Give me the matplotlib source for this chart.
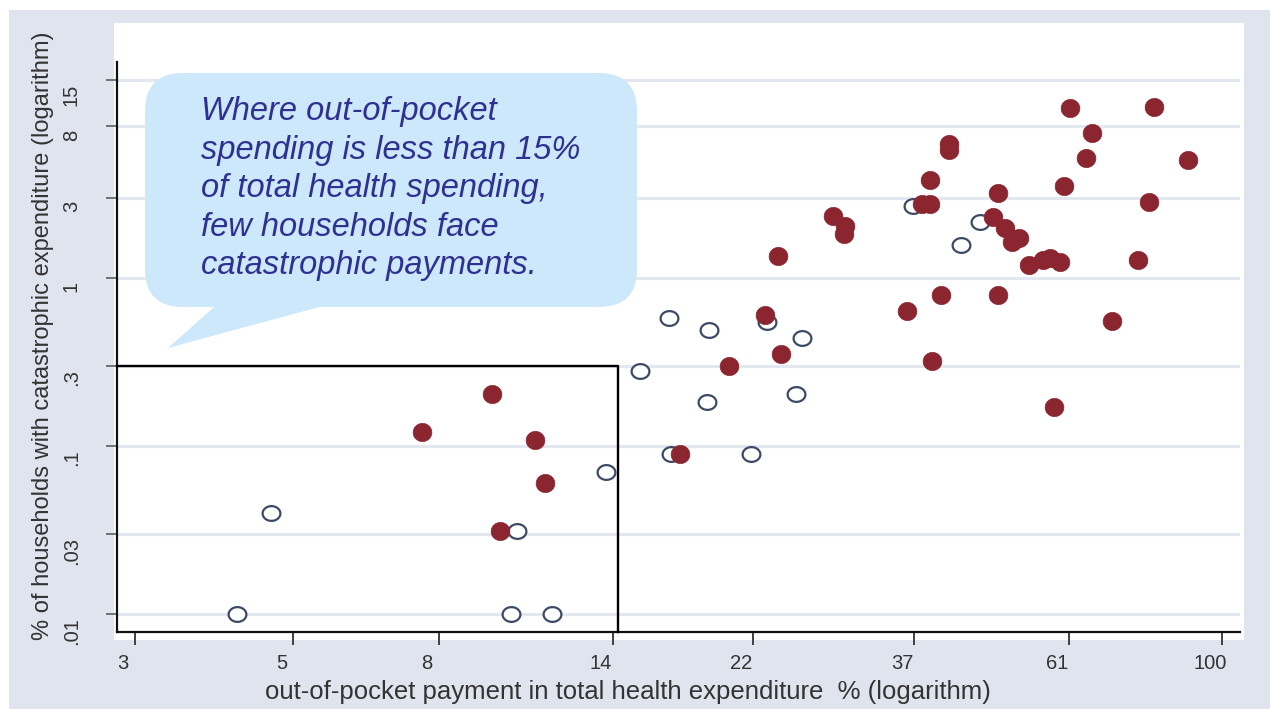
import numpy as np
import matplotlib
matplotlib.use("Agg")
import matplotlib.pyplot as plt
import matplotlib.transforms as mtrans
from matplotlib.patches import Rectangle, FancyBboxPatch, Polygon
from matplotlib.path import Path
from matplotlib.ticker import NullLocator

plt.rcParams['font.family'] = ['Liberation Sans', 'DejaVu Sans']

# ---------------- data ----------------
# countries where out-of-pocket share is low (hollow markers)
hollow_x = [4.17, 4.65, 10.1, 11.5, 10.3, 13.7, 15.3, 16.8, 19.1, 16.9, 19.0,
            21.9, 23.0, 25.8, 25.3, 36.9, 45.8, 43.1]
hollow_y = [0.01, 0.04, 0.01, 0.01, 0.031, 0.07, 0.28, 0.58, 0.49, 0.09, 0.183,
            0.09, 0.55, 0.44, 0.204, 2.68, 2.16, 1.57]
# filled markers
filled_x = [7.57, 9.49, 10.9, 11.25, 9.73, 17.4, 20.4, 22.9, 24.1, 23.9, 28.5,
            29.6, 29.5, 36.2, 39.2, 40.4, 37.96, 38.95, 39.0, 41.4, 41.4, 48.5,
            48.5, 47.7, 49.6, 50.8, 51.9, 53.6, 56.1, 57.4, 59.3, 58.1, 60.0,
            61.2, 65.7, 64.4, 70.0, 76.2, 78.9, 80.2, 89.5]
filled_y = [0.121, 0.204, 0.109, 0.060, 0.031, 0.09, 0.30, 0.60, 0.353, 1.35, 2.34,
            2.04, 1.83, 0.637, 0.321, 0.792, 2.75, 2.75, 3.83, 6.28, 5.78, 3.2,
            0.792, 2.31, 1.99, 1.64, 1.73, 1.19, 1.28, 1.31, 1.25, 0.171, 3.53,
            10.3, 7.3, 5.18, 0.555, 1.28, 2.83, 10.4, 5.04]

x_ticks = [3, 5, 8, 14, 22, 37, 61, 100]
x_tick_labels = ["3", "5", "8", "14", "22", "37", "61", "100"]
y_ticks = [0.01, 0.03, 0.1, 0.3, 1, 3, 8, 15]
y_tick_labels = [".01", ".03", ".1", ".3", "1", "3", "8", "15"]

box_x = 14.24   # threshold box (x edge)
box_y = 0.3     # threshold box (y edge)

x_label = "out-of-pocket payment in total health expenditure  % (logarithm)"
y_label = "% of households with catastrophic expenditure (logarithm)"
callout_lines = ["Where out-of-pocket",
                 "spending is less than 15%",
                 "of total health spending,",
                 "few households face",
                 "catastrophic payments."]

# ---------------- figure ----------------
W, H = 1270, 709
fig = plt.figure(figsize=(W / 100, H / 100), dpi=100)
fig.patch.set_facecolor("white")

bg = fig.add_axes([0, 0, 1, 1], zorder=0)
bg.set_xlim(0, W); bg.set_ylim(H, 0); bg.axis("off")
bg.add_patch(Rectangle((9, 10), W - 9, H - 10, color="#dfe4ee", lw=0))
bg.add_patch(Rectangle((114, 23), 1244 - 114, 640 - 23, color="white", lw=0))

ax = fig.add_axes([117 / W, 1 - 632 / H, (1240 - 117) / W, (632 - 62) / H], zorder=1)
ax.set_facecolor("none")
ax.set_xscale("log"); ax.set_yscale("log")
ax.set_xlim(2.831, 105.9)
ax.set_ylim(0.00781, 19.31)
ax.set_xticks(x_ticks)
ax.set_xticklabels(x_tick_labels)
ax.set_yticks(y_ticks)
ax.set_yticklabels(y_tick_labels, rotation=90, va="top")
ax.xaxis.set_minor_locator(NullLocator())
ax.yaxis.set_minor_locator(NullLocator())
ax.tick_params(axis="x", direction="out", length=9.5, width=1.3, color="#333333",
               pad=6, labelsize=14.5, labelcolor="#333333")
ax.tick_params(axis="y", direction="out", length=8, width=1.1, color="#555555",
               pad=18, labelsize=14.5, labelcolor="#333333")
for s in ["top", "right"]:
    ax.spines[s].set_visible(False)
for s in ["left", "bottom"]:
    ax.spines[s].set_linewidth(1.6)
    ax.spines[s].set_color("#111111")
ax.grid(axis="y", color="#e3e7ef", lw=2.2)
ax.grid(axis="x", visible=False)
ax.set_axisbelow(True)

# label offsets as in the reference
offx = mtrans.ScaledTranslation(-0.12, 0, fig.dpi_scale_trans)
for lab in ax.get_xticklabels():
    lab.set_transform(lab.get_transform() + offx)
offy = mtrans.ScaledTranslation(0, -0.03, fig.dpi_scale_trans)
for lab in ax.get_yticklabels():
    lab.set_transform(lab.get_transform() + offy)

# ellipse markers
t = np.linspace(0, 2 * np.pi, 64)
ell_f = Path(np.column_stack([np.cos(t), 0.97 * np.sin(t)]), closed=True)
ell_h = Path(np.column_stack([np.cos(t), 0.83 * np.sin(t)]), closed=True)

ax.plot(hollow_x, hollow_y, ls="none", marker=ell_h, ms=12.8, mfc="white",
        mec="#3d4a66", mew=1.6, zorder=3)
ax.plot(filled_x, filled_y, ls="none", marker=ell_f, ms=13.5, mfc="#8b2630",
        mec="#8b2630", mew=0.5, zorder=4)

xl = ax.get_xlim(); yl = ax.get_ylim()
ax.plot([xl[0], box_x, box_x], [box_y, box_y, yl[0]], color="black", lw=1.7,
        zorder=5, clip_on=False)

ax.set_xlabel(x_label, fontsize=18.5, color="#333333", va="center")
ax.xaxis.set_label_coords((628 - 117) / (1240 - 117), (632 - 692) / (632 - 62))
ax.set_ylabel(y_label, fontsize=17, color="#333333", va="center")
ax.yaxis.set_label_coords((43 - 117) / (1240 - 117), (632 - 336) / (632 - 62))

# callout bubble
ov = fig.add_axes([0, 0, 1, 1], zorder=2)
ov.set_xlim(0, W); ov.set_ylim(H, 0); ov.axis("off")
ov.patch.set_alpha(0)
bubble_c = "#cce8fa"
ov.add_patch(FancyBboxPatch((145, 73), 492, 234,
                            boxstyle="round,pad=0,rounding_size=38",
                            fc=bubble_c, ec="none"))
ov.add_patch(Polygon([(222, 300), (168, 348), (345, 300)], closed=True,
                     fc=bubble_c, ec="none"))
for i, line in enumerate(callout_lines):
    ov.text(201, 120 + 38.5 * i, line, fontsize=23.5, style="italic",
            color="#2f3192", va="baseline", ha="left")

fig.savefig("out.png", dpi=100, facecolor=fig.get_facecolor())
